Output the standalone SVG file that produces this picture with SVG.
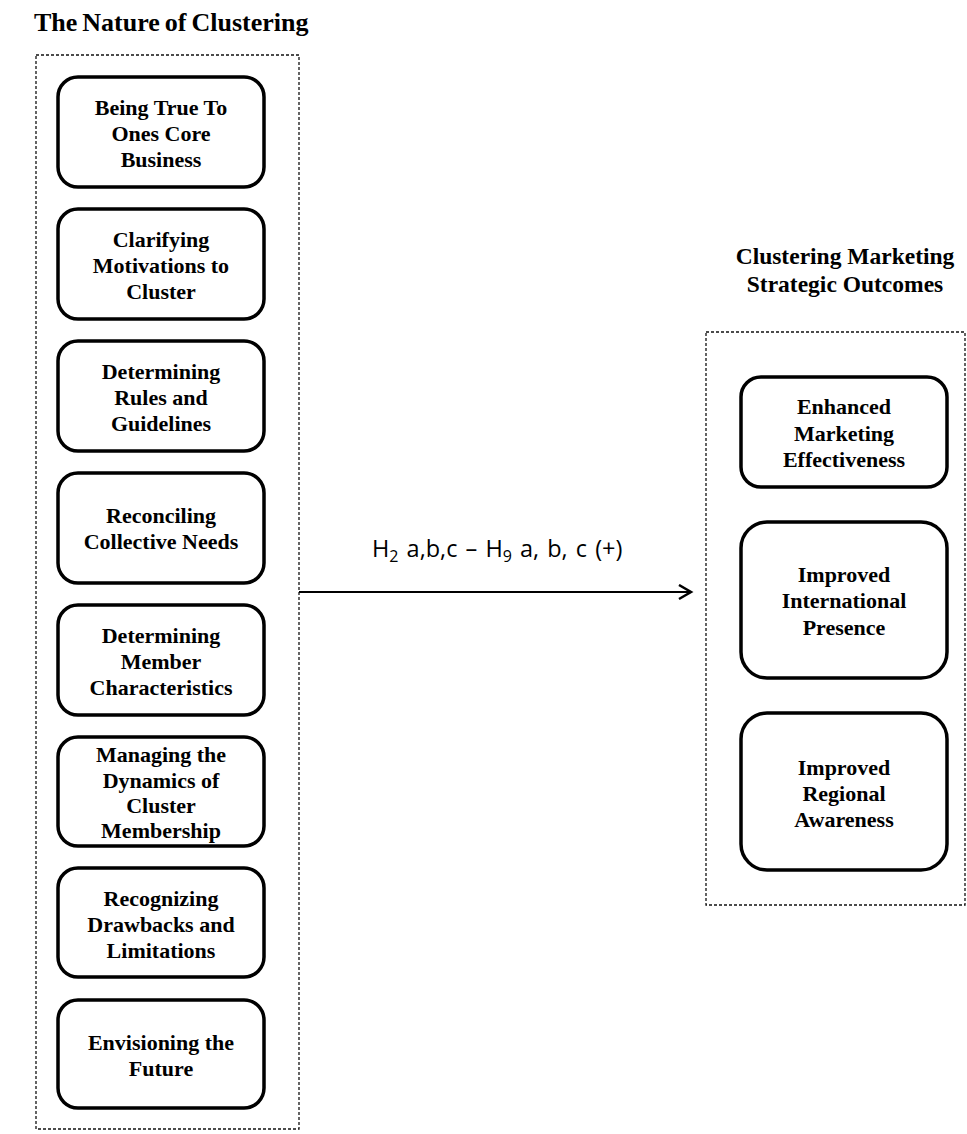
<svg xmlns="http://www.w3.org/2000/svg" width="967" height="1134" viewBox="0 0 967 1134">
<defs>
<style>
.cont{fill:none;stroke:#111;stroke-width:1.3;stroke-dasharray:3,2}
.box{fill:#fff;stroke:#000;stroke-width:3.5}
.t{font-family:"Liberation Serif","Times New Roman",serif;font-weight:bold;font-size:22px;fill:#000;text-anchor:middle}
.title{font-family:"Liberation Serif","Times New Roman",serif;font-weight:bold;fill:#000}
.lab{font-family:"Open Sans","Lato",sans-serif;font-size:23.5px;fill:#000}
.conn{fill:none;stroke:#000;stroke-width:2}
</style>
<marker id="arr" markerWidth="20" markerHeight="20" refX="14" refY="8" orient="auto" markerUnits="userSpaceOnUse">
<path d="M2,1 L14,8 L2,15" fill="none" stroke="#000" stroke-width="2.5"/>
</marker>
</defs>
<rect width="967" height="1134" fill="#fff"/>

<text class="title" x="34" y="31" font-size="26" word-spacing="-1.5">The Nature of Clustering</text>
<text class="title" x="845" y="264" font-size="23.5" text-anchor="middle">Clustering Marketing</text>
<text class="title" x="845" y="292" font-size="23.5" text-anchor="middle">Strategic Outcomes</text>

<rect class="cont" x="36" y="55" width="263" height="1074"/>
<rect class="cont" x="706" y="332" width="259" height="573"/>

<g id="n1"><rect class="box" x="58" y="77" width="206" height="110" rx="20"/>
<text class="t"><tspan x="161" y="115">Being True To</tspan><tspan x="161" y="141">Ones Core</tspan><tspan x="161" y="167">Business</tspan></text></g>
<g id="n2"><rect class="box" x="58" y="209" width="206" height="110" rx="20"/>
<text class="t"><tspan x="161" y="247">Clarifying</tspan><tspan x="161" y="273">Motivations to</tspan><tspan x="161" y="299">Cluster</tspan></text></g>
<g id="n3"><rect class="box" x="58" y="341" width="206" height="110" rx="20"/>
<text class="t"><tspan x="161" y="379">Determining</tspan><tspan x="161" y="405">Rules and</tspan><tspan x="161" y="431">Guidelines</tspan></text></g>
<g id="n4"><rect class="box" x="58" y="473" width="206" height="110" rx="20"/>
<text class="t"><tspan x="161" y="523">Reconciling</tspan><tspan x="161" y="549">Collective Needs</tspan></text></g>
<g id="n5"><rect class="box" x="58" y="605" width="206" height="110" rx="20"/>
<text class="t"><tspan x="161" y="643">Determining</tspan><tspan x="161" y="669">Member</tspan><tspan x="161" y="695">Characteristics</tspan></text></g>
<g id="n6"><rect class="box" x="58" y="737" width="206" height="109" rx="20"/>
<text class="t"><tspan x="161" y="762">Managing the</tspan><tspan x="161" y="788">Dynamics of</tspan><tspan x="161" y="813">Cluster</tspan><tspan x="161" y="838">Membership</tspan></text></g>
<g id="n7"><rect class="box" x="58" y="868" width="206" height="109" rx="20"/>
<text class="t"><tspan x="161" y="906">Recognizing</tspan><tspan x="161" y="932">Drawbacks and</tspan><tspan x="161" y="958">Limitations</tspan></text></g>
<g id="n8"><rect class="box" x="58" y="1000" width="206" height="108" rx="20"/>
<text class="t"><tspan x="161" y="1050">Envisioning the</tspan><tspan x="161" y="1076">Future</tspan></text></g>

<g id="r1"><rect class="box" x="741" y="377" width="206" height="110" rx="20"/>
<text class="t"><tspan x="844" y="414">Enhanced</tspan><tspan x="844" y="441">Marketing</tspan><tspan x="844" y="467">Effectiveness</tspan></text></g>
<g id="r2"><rect class="box" x="741" y="522" width="206" height="156" rx="26"/>
<text class="t"><tspan x="844" y="582">Improved</tspan><tspan x="844" y="608">International</tspan><tspan x="844" y="635">Presence</tspan></text></g>
<g id="r3"><rect class="box" x="741" y="713" width="206" height="157" rx="26"/>
<text class="t"><tspan x="844" y="775">Improved</tspan><tspan x="844" y="801">Regional</tspan><tspan x="844" y="827">Awareness</tspan></text></g>

<g id="connectors">
<line class="conn" x1="299" y1="592" x2="691" y2="592" marker-end="url(#arr)"/>
<text class="lab" x="372" y="557" word-spacing="2">H<tspan font-size="16" dy="5">2</tspan><tspan dy="-5"> a,b,c – H</tspan><tspan font-size="16" dy="5">9</tspan><tspan dy="-5"> a, b, c (+)</tspan></text>
</g>
</svg>
